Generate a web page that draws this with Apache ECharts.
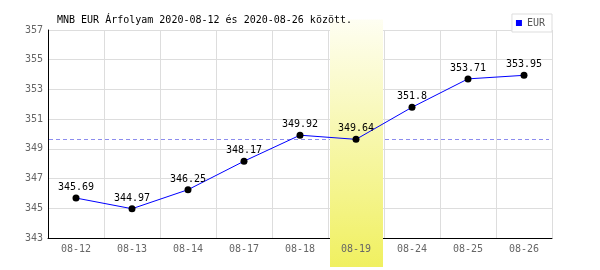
<!DOCTYPE html>
<html>
<head>
<meta charset="utf-8">
<script src="https://cdn.jsdelivr.net/npm/echarts@6/dist/echarts.min.js"></script>
<style>html,body{margin:0;padding:0;background:#fff}#c{width:600px;height:270px}</style>
</head>
<body>
<div id="c"></div>
<script>
var titleText = 'MNB EUR Árfolyam 2020-08-12 és 2020-08-26 között.';
var seriesName = 'EUR';
var categories = ['08-12','08-13','08-14','08-17','08-18','08-19','08-24','08-25','08-26'];
var values = [345.69, 344.97, 346.25, 348.17, 349.92, 349.64, 351.8, 353.71, 353.95];
var yTicks = [343, 345, 347, 349, 351, 353, 355, 357];
var referenceValue = 349.64;
var highlightCat = '08-19';

var FONT = 'DejaVu Sans Mono';
var chart = echarts.init(document.getElementById('c'), null, {renderer: 'canvas'});
var yMin = yTicks[0], yMax = yTicks[yTicks.length - 1];

chart.setOption({
  animation: false,
  backgroundColor: '#fff',
  title: {
    text: titleText,
    left: 52, top: 10,
    textStyle: {fontFamily: FONT, fontSize: 10, fontWeight: 'normal', color: '#000'}
  },
  legend: {
    right: 48, top: 14,
    padding: [4, 7, 4, 4],
    borderColor: '#ddd', borderWidth: 1,
    backgroundColor: '#fff',
    itemWidth: 6, itemHeight: 6,
    icon: 'rect',
    data: [{name: seriesName, itemStyle: {color: '#0000ff'}}],
    textStyle: {fontFamily: FONT, fontSize: 10, color: '#555'}
  },
  grid: {left: 48, right: 48, top: 30, bottom: 32, containLabel: false},
  xAxis: [{
    type: 'category', data: categories, boundaryGap: true, position: 'bottom', z: 0,
    axisLine: {show: true, lineStyle: {color: '#000', width: 1}},
    axisTick: {show: false},
    axisLabel: {show: false},
    splitLine: {show: true, lineStyle: {color: '#dddddd', width: 1}}
  }, {
    type: 'category', data: categories, boundaryGap: true, position: 'bottom', z: 5, gridIndex: 0, offset: 0,
    axisLine: {show: false}, axisTick: {show: false}, splitLine: {show: false},
    axisLabel: {show: true, margin: 6, color: '#666', fontFamily: FONT, fontSize: 10}
  }],
  yAxis: {
    type: 'value', min: yMin, max: yMax, z: 0,
    axisLine: {show: true, lineStyle: {color: '#000', width: 1}},
    axisTick: {show: false, customValues: yTicks},
    axisLabel: {show: true, customValues: yTicks, margin: 5, color: '#666', fontFamily: FONT, fontSize: 10},
    splitLine: {show: true, lineStyle: {color: '#dddddd', width: 1}}
  },
  series: [{
    name: 'ref', type: 'custom', z: 1, silent: true, clip: false,
    data: [[0, referenceValue]],
    renderItem: function (params, api) {
      var cs = params.coordSys;
      var y = Math.round(api.coord([api.value(0), api.value(1)])[1]) + 0.5;
      return {
        type: 'line',
        shape: {x1: cs.x + 1, y1: y, x2: cs.x + cs.width - 3, y2: y},
        style: {stroke: '#8c8cee', lineWidth: 1, lineDash: [4, 3], fill: null}
      };
    }
  }, {
    name: 'band', type: 'custom', z: 2, silent: true, clip: false,
    data: [[categories.indexOf(highlightCat), yMax]],
    renderItem: function (params, api) {
      var cs = params.coordSys;
      var p = api.coord([api.value(0), api.value(1)]);
      var w = api.size([1, 0])[0] - 3;
      var top = cs.y - 10.5, bottom = cs.y + cs.height + 29;
      return {
        type: 'rect',
        shape: {x: Math.round(p[0] - w / 2), y: top, width: w, height: bottom - top},
        style: {
          fill: new echarts.graphic.LinearGradient(0, 0, 0, 1, [
            {offset: 0, color: '#fefef2'},
            {offset: 1, color: '#f0f060'}
          ])
        }
      };
    }
  }, {
    name: seriesName, type: 'line', data: values, z: 3,
    symbol: 'circle', symbolSize: 7,
    lineStyle: {color: '#0000ff', width: 1},
    itemStyle: {color: '#000'},
    label: {show: true, position: 'top', distance: 2, color: '#000', fontFamily: FONT, fontSize: 10}
  }]
});
</script>
</body>
</html>
